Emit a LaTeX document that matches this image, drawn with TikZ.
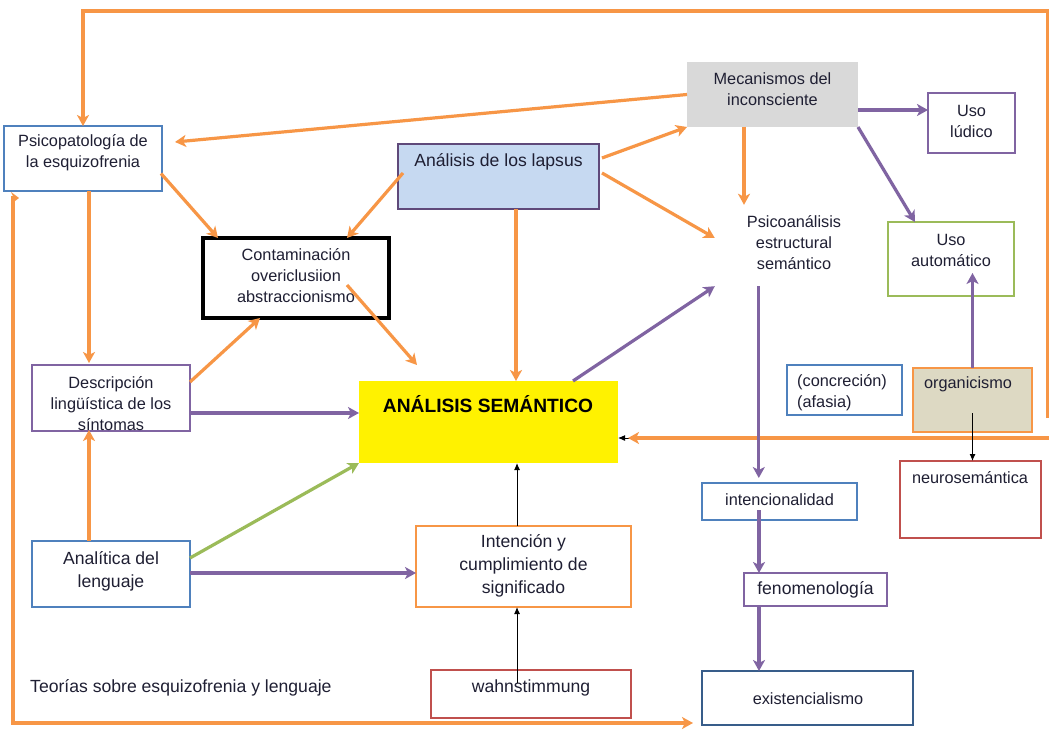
\documentclass[tikz,border=0pt]{standalone}
\usepackage{fontspec}
\setmainfont{Liberation Sans}
\usetikzlibrary{arrows.meta,calc}
\definecolor{ora}{HTML}{F79646}
\definecolor{pur}{HTML}{8064A2}
\definecolor{grn}{HTML}{9BBB59}
\definecolor{blu}{HTML}{4F81BD}
\definecolor{dblu}{HTML}{385D8A}
\definecolor{rd}{HTML}{C0504D}
\definecolor{lapfill}{HTML}{C6D9F1}
\definecolor{lapdraw}{HTML}{5F497A}
\definecolor{gry}{HTML}{D9D9D9}
\definecolor{orgfill}{HTML}{DDD9C3}
\definecolor{ink}{HTML}{1F1F33}
\begin{document}
\begin{tikzpicture}[x=1pt,y=-1pt,
  cbox/.style={draw, line width=2.8pt, inner sep=0pt, outer sep=0pt},
  txt/.style={text=ink, inner sep=0pt, align=center, font=\fontsize{16.3}{21}\selectfont},
  txtl/.style={txt, font=\fontsize{17.6}{23}\selectfont},
  tip/.style={-{Stealth[length=11pt,width=12pt,inset=3pt]}},
  oline/.style={draw=ora, line width=3.2pt, tip},
  pline/.style={draw=pur, line width=3.2pt, tip},
  gline/.style={draw=grn, line width=3.2pt, tip},
  bline/.style={draw=black, line width=1pt, -{Latex[length=7pt,width=6pt]}}]
\useasboundingbox[fill=white] (0,0) rectangle (1049,730);

% ---------- boxes ----------
\node[cbox, draw=blu, minimum width=158pt, minimum height=65pt] (psy) at (83,158.5) {};
\node[cbox, draw=black, line width=3.2pt, minimum width=186pt, minimum height=80pt] (cont) at (296,278) {};
\node[cbox, draw=lapdraw, fill=lapfill, minimum width=201pt, minimum height=65pt] (lap) at (498.5,176.5) {};
\node[fill=gry, inner sep=0pt, outer sep=0pt, minimum width=171pt, minimum height=65pt] (mec) at (772.5,94.5) {};
\node[cbox, draw=pur, minimum width=87pt, minimum height=60pt] (lud) at (971.5,123) {};
\node[cbox, draw=grn, minimum width=126pt, minimum height=74pt] (aut) at (951,259) {};
\node[cbox, draw=pur, minimum width=158pt, minimum height=66pt] (des) at (111,398) {};
\node[fill=yellow, inner sep=0pt, outer sep=0pt, minimum width=259pt, minimum height=82pt] (sem) at (488.5,422) {};
\node[cbox, draw=blu, minimum width=115pt, minimum height=50pt] (con) at (844.5,390) {};
\node[cbox, draw=ora, line width=2pt, fill=orgfill, minimum width=119pt, minimum height=64pt] (org) at (972.5,400) {};
\node[cbox, draw=rd, minimum width=141pt, minimum height=77pt] (neu) at (970.5,499.5) {};
\node[cbox, draw=blu, minimum width=155pt, minimum height=37pt] (int) at (779.5,501.5) {};
\node[cbox, draw=blu, minimum width=158pt, minimum height=66pt] (ana) at (111,574) {};
\node[cbox, draw=ora, minimum width=215pt, minimum height=81pt] (inc) at (523.5,566.5) {};
\node[cbox, draw=pur, minimum width=143pt, minimum height=33pt] (fen) at (815.5,589.5) {};
\node[cbox, draw=rd, minimum width=200pt, minimum height=48pt] (wah) at (531,694) {};
\node[cbox, draw=dblu, minimum width=211pt, minimum height=54pt] (exi) at (807.5,698) {};
\node[txt, minimum width=158pt, minimum height=86pt] (psa) at (794,243)
  {Psicoanálisis\\estructural\\semántico};

% ---------- texts ----------
\node[txt] (psy-t) at (83,153) {Psicopatología de\\la esquizofrenia};
\node[txt] (cont-t) at (296,276) {Contaminación\\overiclusiion\\abstraccionismo};
\node[txtl] (lap-t) at (498.5,162) {Análisis de los lapsus};
\node[txt] (mec-t) at (772.5,89.5) {Mecanismos del\\inconsciente};
\node[txt] (lud-t) at (971.5,121.5) {Uso\\lúdico};
\node[txt] (aut-t) at (951,250) {Uso\\automático};
\node[txt] (des-t) at (111,404) {Descripción\\lingüística de los\\síntomas};
\node[txt, text=black, font=\bfseries\fontsize{19.2}{23}\selectfont] (sem-t) at (488,404) {ANÁLISIS SEMÁNTICO};
\node[txt, anchor=west, align=left] (con-t) at (797,393) {(concreción)\\(afasia)};
\node[txt] (org-t) at (968,384) {organicismo};
\node[txt] (neu-t) at (970,478) {neurosemántica};
\node[txt] (int-t) at (779.5,500) {intencionalidad};
\node[txtl] (ana-t) at (111,571) {Analítica del\\lenguaje};
\node[txtl] (inc-t) at (523.5,566) {Intención y\\cumplimiento de\\significado};
\node[txtl] (fen-t) at (815.5,590) {fenomenología};
\node[txtl] (wah-t) at (531,688) {wahnstimmung};
\node[txt] (exi-t) at (808,699) {existencialismo};
\node[txtl, anchor=west] (teo) at (30,688) {Teorías sobre esquizofrenia y lenguaje};

% ---------- outer frame connectors ----------
\coordinate (frB) at (1048,418);
\coordinate (frT) at (1048,11);
\draw[oline] (frB) -- (frT) -| (psy.north);
\draw[oline, {Stealth[length=8pt,width=12pt,inset=3pt]}-{Stealth[length=11pt,width=12pt,inset=3pt]}]
  ([shift={(15,7)}]psy.south west) -- ++(-6,0) |- ([shift={(-9,25)}]exi.west);
\coordinate (frR) at (1049,438);
\draw[bline] ([shift={(49,16)}]sem.east) -- ([shift={(0,16)}]sem.east);
\draw[oline] (frR) -- ([shift={(10,16)}]sem.east);

% ---------- orange connectors ----------
\draw[oline] (mec.west) -- ([shift={(13,-16.5)}]psy.east);
\draw[oline] ([shift={(-1,15)}]psy.east) -- ([shift={(15,0)}]cont.north west);
\draw[oline] ([shift={(5,-3.5)}]lap.west) -- ([shift={(-42,0)}]cont.north east);
\draw[oline] ([shift={(3,-18.5)}]lap.east) -- (mec.south west);
\draw[oline] ([shift={(3,-3.5)}]lap.east) -- ([shift={(0,-5)}]psa.west);
\draw[oline] ([shift={(17.5,0)}]lap.south) -- ([shift={(27.5,0)}]sem.north);
\draw[oline] ([shift={(-28.5,0)}]mec.south) -- ([shift={(-50,5)}]psa.north);
\draw[oline] ([shift={(51,7)}]cont.center) -- ([shift={(58,-16)}]sem.north west);
\draw[oline] ([shift={(6,0)}]psy.south) -- ([shift={(-22,-2)}]des.north);
\draw[oline] ([shift={(0,-16)}]des.east) -- ([shift={(-36,0)}]cont.south);
\draw[oline] ([shift={(-22,0)}]ana.north) -- ([shift={(-22,-1)}]des.south);

% ---------- purple connectors ----------
\draw[pline] ([shift={(0,15.5)}]mec.east) coordinate (m1) -- (m1 -| lud.west);
\draw[pline] (mec.south east) -- ([shift={(-36,0)}]aut.north);
\draw[pline] ([shift={(-45,0)}]sem.north east) -- (psa.south west);
\draw[pline, shorten >=5pt] ([shift={(44,0)}]psa.south west) coordinate (p1) -- (p1 |- int.north);
\draw[pline] ([shift={(-20.5,8.5)}]int.center) -- ([shift={(15,0)}]fen.north west);
\draw[pline] ([shift={(15,0)}]fen.south west) -- ([shift={(57,0)}]exi.north west);
\draw[pline] (org.north) -- ([shift={(21.5,-23)}]aut.south);
\draw[pline] ([shift={(0,15)}]des.east) coordinate (d1) -- (d1 -| sem.west);
\draw[pline] ([shift={(0,-1)}]ana.east) coordinate (a1) -- (a1 -| inc.west);

% ---------- green connector ----------
\draw[gline] ([shift={(0,-16)}]ana.east) -- (sem.south west);

% ---------- black connectors ----------
\draw[bline] ([shift={(0,13)}]org.center) coordinate (o1) -- (o1 |- neu.north);
\draw[bline] ([shift={(-6.5,0)}]inc.north) coordinate (i1) -- (i1 |- sem.south);
\draw[bline] ([shift={(-14,-11)}]wah.center) coordinate (w1) -- (w1 |- inc.south);
\end{tikzpicture}
\end{document}
